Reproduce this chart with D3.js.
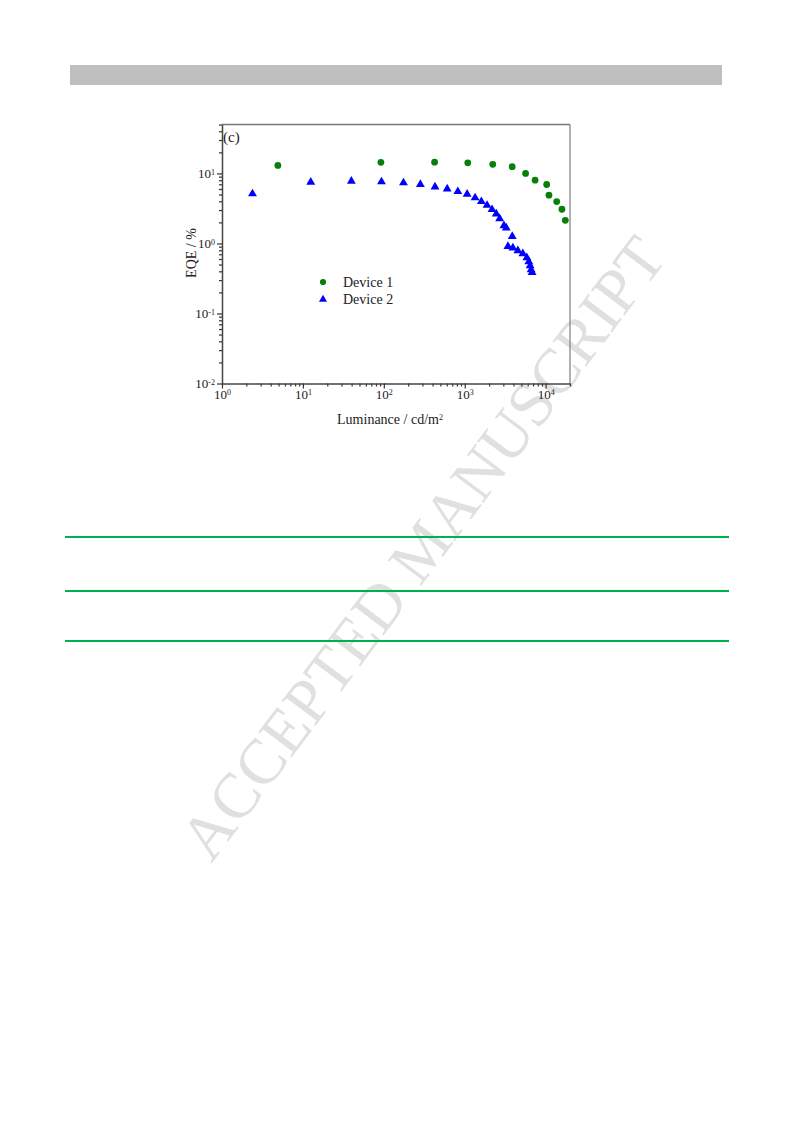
<!DOCTYPE html>
<html>
<head>
<meta charset="utf-8">
<script src="https://cdn.jsdelivr.net/npm/d3@7"></script>
<style>
  html, body { margin: 0; padding: 0; background: #fff; }
  svg { display: block; }
  text { font-family: "Liberation Serif", "Times New Roman", serif; }
</style>
</head>
<body>
<svg id="page" width="793" height="1123"></svg>
<script>
// ---- data ----
const seriesNames = ["Device 1", "Device 2"];
const device1Luminance = [4.9, 92, 424, 1090, 2220, 3860, 5650, 7410, 10300, 11000, 13700, 15900, 17500];
const device1EQE       = [13.0, 14.4, 14.5, 14.2, 13.5, 12.5, 10.0, 8.0, 6.95, 4.89, 3.97, 3.08, 2.14];
const device2Luminance = [2.38, 12.5, 39.7, 93.6, 175, 283, 429, 607, 822, 1071, 1343, 1605, 1887, 2174, 2454, 2703, 3054, 3259, 3864, 3420, 3938, 4537, 5227, 5855, 6196, 6430, 6612, 6800];
const device2EQE       = [5.12, 7.50, 7.76, 7.60, 7.36, 6.96, 6.44, 6.03, 5.52, 5.05, 4.49, 3.97, 3.51, 3.05, 2.65, 2.26, 1.80, 1.67, 1.26, 0.91, 0.862, 0.789, 0.714, 0.626, 0.549, 0.481, 0.421, 0.386];
const xMajorTicks = [1, 10, 100, 1000, 10000];
const xTickExponents = ["0", "1", "2", "3", "4"];
const yMajorTicks = [0.01, 0.1, 1, 10];
const yTickExponents = ["-2", "-1", "0", "1"];
const xDomain = [1, 20000];
const yDomain = [0.01, 50];
const xTitle = "Luminance / cd/m";
const yTitle = "EQE / %";
const panelLabel = "(c)";
const watermarkText = "ACCEPTED MANUSCRIPT";

const svg = d3.select("#page");

// ---- watermark (beneath everything) ----
svg.append("text")
  .attr("transform", "translate(428,552) rotate(-53)")
  .attr("text-anchor", "middle")
  .attr("dominant-baseline", "middle")
  .attr("font-size", 64)
  .attr("fill", "#e0e0e0")
  .text(watermarkText);

// ---- header bar ----
svg.append("rect").attr("x", 70).attr("y", 65).attr("width", 652).attr("height", 20).attr("fill", "#bfbfbf");

// ---- green table rules ----
[537, 591, 641].forEach(yy => {
  svg.append("line").attr("x1", 65).attr("x2", 729).attr("y1", yy).attr("y2", yy)
    .attr("stroke", "#00b050").attr("stroke-width", 2);
});

// ---- chart ----
const pLeft = 222, pRight = 570, pTop = 124.5, pBottom = 383.5;
const x = d3.scaleLog().domain(xDomain).range([pLeft, pRight]);
const y = d3.scaleLog().domain(yDomain).range([pBottom, pTop]);

const g = svg.append("g");

// frame top/right
g.append("line").attr("x1", pLeft).attr("x2", pRight).attr("y1", pTop).attr("y2", pTop).attr("stroke", "#777").attr("stroke-width", 1.3);
g.append("line").attr("x1", pRight).attr("x2", pRight).attr("y1", pTop).attr("y2", pBottom).attr("stroke", "#888").attr("stroke-width", 1.3);

function minorTicks(domain) {
  const out = [];
  const lo = Math.floor(Math.log10(domain[0])), hi = Math.ceil(Math.log10(domain[1]));
  for (let e = lo; e < hi; e++) for (let m = 2; m <= 9; m++) {
    const v = m * Math.pow(10, e);
    if (v >= domain[0] && v <= domain[1] * 1.0001) out.push(v);
  }
  return out;
}

// x axis minor
g.append("g").attr("transform", `translate(0,${pBottom})`)
  .call(d3.axisBottom(x).tickValues(minorTicks(xDomain)).tickSize(3).tickSizeOuter(0).tickFormat(""))
  .call(s => s.select(".domain").remove())
  .call(s => s.selectAll("line").attr("stroke", "#333").attr("stroke-width", 1.2));
// x axis major
const xa = g.append("g").attr("transform", `translate(0,${pBottom})`)
  .call(d3.axisBottom(x).tickValues(xMajorTicks).tickSize(5).tickSizeOuter(0).tickPadding(1).tickFormat(() => "10"));
xa.select(".domain").attr("stroke", "#444").attr("stroke-width", 1.5);
xa.selectAll("line").attr("stroke", "#333").attr("stroke-width", 1.2);
xa.selectAll("text").attr("font-size", 13).attr("fill", "#222")
  .attr("font-family", "Liberation Serif, serif")
  .each(function(d, i) {
    d3.select(this).append("tspan").attr("dy", "-0.45em").attr("font-size", 8).text(xTickExponents[i]);
  });

// y axis minor
g.append("g").attr("transform", `translate(${pLeft},0)`)
  .call(d3.axisLeft(y).tickValues(minorTicks(yDomain)).tickSize(3).tickSizeOuter(0).tickFormat(""))
  .call(s => s.select(".domain").remove())
  .call(s => s.selectAll("line").attr("stroke", "#333").attr("stroke-width", 1.2));
// y axis major
const ya = g.append("g").attr("transform", `translate(${pLeft},0)`)
  .call(d3.axisLeft(y).tickValues(yMajorTicks).tickSize(5).tickSizeOuter(0).tickPadding(2).tickFormat(() => "10"));
ya.select(".domain").attr("stroke", "#444").attr("stroke-width", 1.5);
ya.selectAll("line").attr("stroke", "#333").attr("stroke-width", 1.2);
ya.selectAll("text").attr("font-size", 13).attr("fill", "#222")
  .attr("font-family", "Liberation Serif, serif")
  .each(function(d, i) {
    d3.select(this).append("tspan").attr("dy", "-0.45em").attr("font-size", 8).text(yTickExponents[i]);
  });

// titles
const xt = g.append("text").attr("x", 390).attr("y", 424).attr("text-anchor", "middle")
  .attr("font-size", 14).attr("fill", "#222").text(xTitle);
xt.append("tspan").attr("dy", "-0.45em").attr("font-size", 8).text("2");
g.append("text").attr("transform", "translate(196,253) rotate(-90)").attr("text-anchor", "middle")
  .attr("font-size", 14).attr("fill", "#222").text(yTitle);
g.append("text").attr("x", 223).attr("y", 142).attr("font-size", 15).attr("fill", "#222").text(panelLabel);

// data markers
const d1 = device1Luminance.map((v, i) => ({ L: v, E: device1EQE[i] }));
const d2 = device2Luminance.map((v, i) => ({ L: v, E: device2EQE[i] }));
const circleSym = d3.symbol().type(d3.symbolCircle).size(36);
const triSym = d3.symbol().type(d3.symbolTriangle).size(34);

g.selectAll(".d1").data(d1).join("path").attr("class", "d1")
  .attr("d", circleSym)
  .attr("transform", d => `translate(${x(d.L)},${y(d.E)})`)
  .attr("fill", "#078007");
g.selectAll(".d2").data(d2).join("path").attr("class", "d2")
  .attr("d", triSym)
  .attr("transform", d => `translate(${x(d.L)},${y(d.E)})`)
  .attr("fill", "#0000ff");

// legend
const legend = g.append("g");
legend.append("path").attr("d", d3.symbol().type(d3.symbolCircle).size(30)).attr("transform", "translate(323,282)").attr("fill", "#078007");
legend.append("text").attr("x", 343).attr("y", 287).attr("font-size", 14).attr("fill", "#222").text(seriesNames[0]);
legend.append("path").attr("d", d3.symbol().type(d3.symbolTriangle).size(28)).attr("transform", "translate(323,299.5)").attr("fill", "#0000ff");
legend.append("text").attr("x", 343).attr("y", 304).attr("font-size", 14).attr("fill", "#222").text(seriesNames[1]);
</script>
</body>
</html>
